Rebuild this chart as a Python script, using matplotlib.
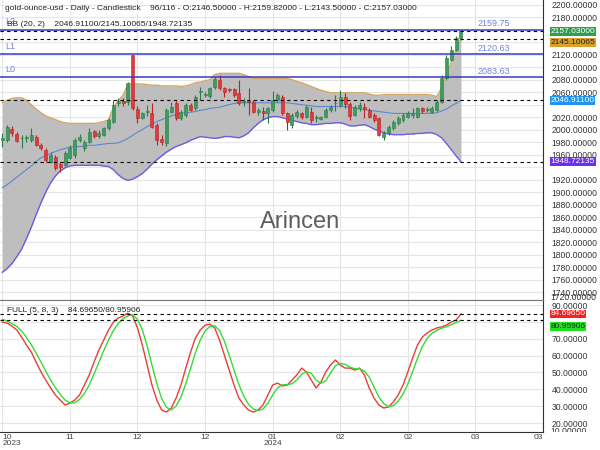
import matplotlib
matplotlib.use("Agg")
import matplotlib.pyplot as plt
import numpy as np
from matplotlib.transforms import Bbox

plt.rcParams['font.family'] = ['Liberation Sans', 'DejaVu Sans']

# daily gold candles (96 bars)
opens = [1983, 1984, 2001, 1993, 1986, 1986, 1984, 1989, 1976, 1968, 1949, 1957, 1945, 1944, 1955, 1959,
         1983, 1970, 1981, 1998, 1990, 1992, 2002, 2013, 2043, 2046, 2045, 2119, 2033, 2019, 2029, 2027,
         2008, 1985, 1979, 2029, 2043, 2019, 2024, 2040, 2035, 2061, 2056, 2054, 2068, 2080, 2067, 2065,
         2065, 2059, 2044, 2046, 2045, 2029, 2030, 2027, 2032, 2048, 2053, 2027, 2008, 2022, 2027, 2021,
         2029, 2018, 2017, 2021, 2032, 2042, 2040, 2053, 2041, 2024, 2035, 2037, 2032, 2024, 2019, 1989,
         1995, 2003, 2010, 2016, 2021, 2024, 2021, 2035, 2032, 2029, 2032, 2045, 2083, 2112, 2128, 2146.5]
highs = [1995, 2008, 2006, 1997, 1991, 1991, 2003, 1991, 1979, 1971, 1965, 1960, 1948, 1966, 1976, 1987,
         1993, 1984, 2002, 2000, 2000, 2005, 2019, 2048, 2050, 2050, 2077, 2120, 2038, 2029, 2039, 2043,
         2010, 1992, 2035, 2045, 2046, 2032, 2043, 2043, 2056, 2069, 2060, 2069, 2084, 2088, 2069, 2067,
         2067, 2080, 2050, 2066, 2047, 2035, 2037, 2037, 2062, 2058, 2055, 2029, 2027, 2031, 2029, 2040,
         2037, 2024, 2022, 2034, 2040, 2056, 2064, 2058, 2045, 2040, 2045, 2043, 2035, 2026, 2021, 1998,
         2008, 2016, 2022, 2027, 2030, 2035, 2037, 2037, 2037, 2038, 2048, 2088, 2119, 2133, 2150, 2159.82]
lows = [1972, 1980, 1990, 1980, 1970, 1980, 1981, 1974, 1968, 1949, 1946, 1936, 1933, 1942, 1953, 1955,
        1980, 1966, 1978, 1987, 1987, 1990, 2000, 2011, 2038, 2038, 2040, 2032, 2010, 2017, 2022, 2003,
        1976, 1976, 1974, 2026, 2016, 2016, 2021, 2030, 2032, 2048, 2053, 2051, 2065, 2064, 2053, 2060,
        2053, 2040, 2038, 2023, 2027, 2024, 2016, 2011, 2029, 2045, 2024, 2000, 2003, 2019, 2017, 2019,
        2011, 2013, 2015, 2019, 2029, 2030, 2037, 2035, 2015, 2022, 2030, 2018, 2019, 2013, 1990, 1984,
        1992, 2000, 2008, 2013, 2019, 2018, 2019, 2027, 2029, 2027, 2030, 2043, 2080, 2110, 2125, 2143.5]
closes = [1987, 2005, 1995, 1982, 1987, 1989, 1992, 1976, 1970, 1952, 1960, 1939, 1940, 1963, 1971, 1984,
          1988, 1981, 1997, 1990, 1995, 2003, 2016, 2040, 2046, 2043, 2075, 2035, 2019, 2027, 2030, 2005,
          1983, 1981, 2032, 2036, 2019, 2029, 2040, 2032, 2053, 2062, 2057, 2067, 2081, 2067, 2061, 2063,
          2056, 2043, 2046, 2044, 2029, 2031, 2027, 2035, 2048, 2056, 2027, 2013, 2024, 2029, 2021, 2037,
          2016, 2021, 2020, 2032, 2037, 2043, 2053, 2041, 2022, 2037, 2039, 2033, 2021, 2016, 1992, 1995,
          2005, 2013, 2019, 2024, 2027, 2027, 2035, 2030, 2033, 2035, 2045, 2083, 2115, 2128, 2147, 2157.03]

# Bollinger bands (20, 2)
bb_upper = [2043, 2047, 2050, 2051, 2051, 2047, 2040, 2033, 2027, 2022, 2019, 2016, 2013, 2011, 2010, 2010,
            2010, 2010, 2010, 2010, 2011, 2013, 2016, 2035, 2046, 2055, 2072, 2074, 2073, 2073, 2072, 2071,
            2071, 2070, 2070, 2070, 2070, 2069, 2070, 2072, 2075, 2076, 2078, 2080, 2088, 2090, 2090, 2090,
            2090, 2090, 2088, 2085, 2082, 2082, 2082, 2082, 2082, 2082, 2082, 2082, 2080, 2077, 2075, 2072,
            2069, 2066, 2063, 2061, 2059, 2059, 2059, 2059, 2059, 2059, 2059, 2059, 2057, 2055, 2055, 2056,
            2056, 2056, 2056, 2056, 2056, 2056, 2056, 2056, 2056, 2055, 2053, 2067, 2088, 2108, 2128, 2145.10065]
bb_mid = [1907, 1912, 1918, 1924, 1930, 1936, 1942, 1949, 1955, 1959, 1962, 1965, 1968, 1970, 1972, 1973,
          1973, 1974, 1975, 1975, 1976, 1977, 1978, 1978, 1979, 1982, 1986, 1991, 1996, 2000, 2005, 2009,
          2013, 2016, 2019, 2022, 2024, 2026, 2027, 2028, 2029, 2031, 2032, 2034, 2035, 2036, 2038, 2040,
          2042, 2043, 2043, 2043, 2043, 2043, 2043, 2043, 2043, 2043, 2043, 2043, 2042, 2041, 2040, 2039,
          2038, 2037, 2037, 2037, 2037, 2037, 2037, 2037, 2036, 2034, 2033, 2032, 2031, 2030, 2029, 2028,
          2027, 2026, 2026, 2026, 2026, 2026, 2026, 2026, 2026, 2026, 2027, 2030, 2033, 2038, 2042, 2046.911]
bb_lower = [1772, 1778, 1786, 1797, 1809, 1826, 1844, 1864, 1883, 1900, 1915, 1926, 1934, 1939, 1942, 1943,
            1943, 1943, 1943, 1943, 1943, 1942, 1941, 1936, 1928, 1922, 1919, 1921, 1925, 1930, 1937, 1945,
            1952, 1958, 1964, 1969, 1973, 1976, 1979, 1983, 1986, 1989, 1988, 1987, 1986, 1987, 1989, 1989,
            1988, 1987, 1990, 1995, 2003, 2010, 2016, 2019, 2021, 2021, 2019, 2017, 2015, 2013, 2011, 2010,
            2008, 2008, 2009, 2010, 2010, 2011, 2011, 2009, 2006, 2006, 2007, 2008, 2005, 2001, 1998, 1995,
            1993, 1992, 1992, 1992, 1993, 1993, 1994, 1994, 1995, 1995, 1992, 1987, 1978, 1968, 1958, 1948.72135]

# full stochastic (5, 8, 3)
stoch_k = [79.9, 79.3, 77.5, 75.2, 71.0, 66.3, 62.1, 56.2, 50.3, 45.5, 40.8, 36.6, 33.6, 30.7, 31.8, 33.6,
           36.6, 42.5, 48.5, 56.2, 63.3, 69.2, 75.2, 79.9, 82.3, 83.5, 85.2, 83.5, 76.4, 66.3, 54.4, 42.5,
           33.6, 27.7, 26.5, 28.9, 34.8, 42.5, 52.6, 62.1, 70.4, 75.2, 78.1, 78.7, 76.4, 69.2, 60.3, 51.4,
           42.5, 34.8, 30.7, 27.7, 26.5, 27.7, 30.7, 36.6, 42.5, 43.7, 42.0, 42.5, 45.5, 48.5, 52.6, 50.3,
           45.5, 40.8, 44.3, 50.3, 54.4, 57.4, 54.4, 52.6, 52.6, 51.4, 52.6, 48.5, 40.8, 34.8, 30.7, 28.9,
           29.5, 32.5, 36.6, 42.5, 50.3, 58.6, 66.3, 71.0, 73.4, 75.2, 76.4, 77.0, 78.1, 79.9, 81.1, 84.6965]
stoch_d = [81.5, 80.5, 79.0, 77.3, 74.6, 70.8, 66.5, 61.5, 56.2, 50.7, 45.5, 41.0, 37.0, 33.6, 32.0, 32.0,
           34.0, 37.6, 42.5, 49.1, 56.0, 62.9, 69.2, 74.8, 79.1, 81.9, 83.5, 84.2, 81.5, 75.4, 65.7, 54.4,
           43.5, 34.6, 29.3, 27.7, 30.1, 35.4, 43.3, 52.4, 61.7, 69.2, 74.6, 77.3, 77.7, 74.8, 68.6, 60.3,
           51.4, 42.9, 36.0, 31.1, 28.3, 27.3, 28.3, 31.7, 36.6, 40.9, 42.7, 42.7, 43.3, 45.5, 48.9, 50.5,
           49.5, 45.5, 43.5, 45.1, 49.7, 54.0, 55.4, 54.8, 53.2, 52.2, 52.2, 50.8, 47.3, 41.4, 35.4, 31.5,
           29.7, 30.3, 32.9, 37.2, 43.1, 50.5, 58.4, 65.3, 70.2, 73.2, 75.0, 76.2, 77.2, 78.3, 79.7, 80.95906]

levels = [2083.63, 2120.63, 2159.75]
level_names = ['L0', 'L1', 'L2']
month_labels = ['10\n2023', '11', '12', '12', '01\n2024', '02', '02', '03', '03']
price_ticks = list(range(1740, 2201, 20))
hidden_price = [2160, 2140, 2040, 1940]   # covered by the value boxes
stoch_ticks = list(range(20, 91, 10))
hidden_stoch = [80]

header = ("gold-ounce-usd - Daily - Candlestick    96/116 - O:2146.50000 - H:2159.82000"
          " - L:2143.50000 - C:2157.03000")

fig = plt.figure(figsize=(6, 4.5), dpi=100)
ax = fig.add_axes([0, 150 / 450, 543 / 600, 300 / 450])
ax2 = fig.add_axes([0, 18 / 450, 543 / 600, 132 / 450], sharex=ax)

x = np.arange(len(closes))
o = np.array(opens)
c = np.array(closes)
up = c >= o
body_col = np.where(up, '#3d9d60', '#e03a3a')
edge_col = np.where(up, '#2a7c45', '#b82424')

# bands
ax.fill_between(x, bb_lower, bb_upper, color='#bebebe', lw=0, zorder=1)
ax.plot(x, bb_upper, color='#d6a661', lw=1, zorder=2)
ax.plot(x, bb_lower, color='#6c5de2', lw=1, zorder=2)
ax.plot(x, bb_mid, color='#5e86d4', lw=0.8, zorder=2)

# candles
ax.vlines(x, lows, highs, colors=edge_col, lw=0.8, zorder=3)
ax.bar(x, np.maximum(np.abs(c - o), 0.8), bottom=np.minimum(o, c), width=0.62,
       color=body_col, edgecolor=edge_col, linewidth=0.4, zorder=4)

# levels
for v, name in zip(levels, level_names):
    ax.axhline(v, color='#3a3abf', lw=1.1, zorder=5)
    ax.annotate(name, xy=(0.009, v), xycoords=('axes fraction', 'data'), xytext=(0, 2.5),
                textcoords='offset points', va='bottom', fontsize=6.5, color='#6f86dc')
    ax.annotate(f'{v:.2f}', xy=(0.88, v), xycoords=('axes fraction', 'data'), xytext=(0, 1.2),
                textcoords='offset points', va='bottom', fontsize=6.5, color='#6f86dc')

for v in [closes[-1], bb_upper[-1], bb_mid[-1], bb_lower[-1]]:
    ax.axhline(v, color='black', lw=0.8, ls=(0, (3, 3)), zorder=5)

ax.text(0.5525, 0.26, 'Arincen', transform=ax.transAxes, fontsize=17, color='#5e5e5e',
        ha='center', va='center', zorder=6)

ax.set_xlim(-0.48, 111.95)
ax.set_ylim(1727.7, 2207.3)
ax.yaxis.tick_right()
ax.set_yticks(price_ticks)
ax.set_yticklabels(['' if v in hidden_price else f'{v:.5f}' for v in price_ticks])
ax.tick_params(axis='y', length=0, labelsize=6.2, pad=6, labelcolor='#333333')
ax.tick_params(axis='x', length=0, labelbottom=False)
ax.set_xticks(np.arange(0, 113, 14))
ax.grid(color='#e6e6e6', lw=0.8)
ax.set_axisbelow(True)
for s in ['top', 'left']:
    ax.spines[s].set_visible(False)
ax.spines['right'].set_color('#333333')
ax.spines['bottom'].set_color('#777777')

# value boxes on the price axis (second one nudged down like the reference)
boxes = [(closes[-1], 0.0, '#2e9e50', 'white'), (bb_upper[-1], -2.4, '#d9a02c', '#222222'),
         (bb_mid[-1], 0.0, '#2094f0', 'white'), (bb_lower[-1], 0.0, '#6a30ee', 'white')]
for v, dy, bg, fg in boxes:
    ax.annotate(f'{v:.5f}', xy=(1.0, v), xycoords=('axes fraction', 'data'), xytext=(5.3, dy),
                textcoords='offset points', va='center', fontsize=6, color=fg,
                bbox=dict(boxstyle='square,pad=0.1', fc=bg, ec='none'), zorder=10)

t = ax.annotate('1720.00000', xy=(1.0, 0.0), xycoords='axes fraction', xytext=(5.3, 1.5),
                textcoords='offset points', va='center', fontsize=6.2, color='#333333')
t.set_clip_box(Bbox.from_extents(543, 150, 600, 450))
t.set_clip_on(True)

# stochastic panel
ax2.plot(x, stoch_k, color='#ee3b3b', lw=1)
ax2.plot(x, stoch_d, color='#33dd33', lw=1)
for v in [stoch_k[-1], stoch_d[-1]]:
    ax2.axhline(v, color='black', lw=0.8, ls=(0, (3, 3)))
ax2.set_ylim(14.66, 93.0)
ax2.yaxis.tick_right()
ax2.set_yticks(stoch_ticks)
ax2.set_yticklabels(['' if v in hidden_stoch else f'{v:.5f}' for v in stoch_ticks])
ax2.tick_params(axis='y', length=0, labelsize=6.2, pad=6, labelcolor='#333333')
ax2.set_xticks(np.arange(0, 113, 14))
ax2.set_xticklabels(month_labels)
ax2.tick_params(axis='x', length=0, labelsize=6, pad=1.5, labelcolor='#444444')
labels = ax2.get_xticklabels()
labels[0].set_ha('left')
labels[-1].set_ha('right')
for lab in labels:
    lab.set_linespacing(0.85)
ax2.grid(color='#e6e6e6', lw=0.8)
ax2.set_axisbelow(True)
ax2.spines['left'].set_visible(False)
ax2.spines['top'].set_color('#777777')
ax2.spines['right'].set_color('#333333')
ax2.spines['bottom'].set_color('#333333')

for v, dy, bg, fg in [(stoch_k[-1], 0.0, '#f02424', 'white'), (stoch_d[-1], -4.5, '#22e022', '#222222')]:
    ax2.annotate(f'{v:.5f}', xy=(1.0, v), xycoords=('axes fraction', 'data'), xytext=(5.3, dy),
                 textcoords='offset points', va='center', fontsize=6, color=fg,
                 bbox=dict(boxstyle='square,pad=0.1', fc=bg, ec='none'), zorder=10)

t2 = ax2.annotate('10.00000', xy=(1.0, 0.0), xycoords='axes fraction', xytext=(5.3, 0.5),
                  textcoords='offset points', va='center', fontsize=6.2, color='#333333')
t2.set_clip_box(Bbox.from_extents(543, 18, 600, 150))
t2.set_clip_on(True)

fig.text(5 / 600, 1 - 9 / 450, header, fontsize=6, va='center', color='#222222')
fig.text(7 / 600, 1 - 25 / 450, 'BB (20, 2)    2046.91100/2145.10065/1948.72135',
         fontsize=6, va='center', color='#222222')
fig.text(7 / 600, 1 - 311 / 450, 'FULL (5, 8, 3)    84.69650/80.95906',
         fontsize=6, va='center', color='#222222')

fig.savefig('out.png', dpi=100)
